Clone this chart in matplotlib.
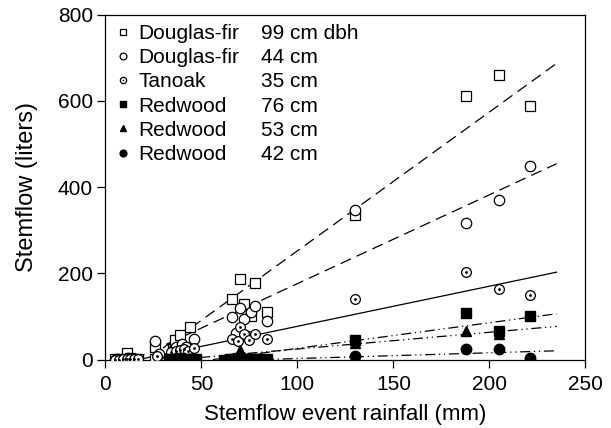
import numpy as np
import matplotlib
matplotlib.use("Agg")
import matplotlib.pyplot as plt
from matplotlib.legend_handler import HandlerTuple

plt.rcParams['font.family'] = ['Liberation Sans', 'DejaVu Sans']

# data (rainfall mm, stemflow liters)
df99_x = [5, 7, 9, 11, 13, 15, 17, 26, 26, 35, 36, 39, 44, 66, 70, 72, 76, 78, 84, 130, 188, 205, 221]
df99_y = [1, 2, 1, 16, 3, 2, 1, 30, 2, 25, 45, 57, 75, 140, 187, 128, 101, 178, 110, 335, 612, 660, 589]

df44_x = [5, 6, 8, 10, 12, 14, 16, 26, 28, 35, 37, 40, 42, 46, 66, 68, 70, 72, 74, 76, 78, 84, 130, 188, 205, 221]
df44_y = [0, 1, 0, 2, 3, 1, 2, 43, 12, 22, 30, 35, 30, 47, 98, 62, 120, 93, 55, 110, 124, 89, 347, 316, 371, 449]

tan_x = [5, 7, 9, 11, 13, 15, 17, 27, 34, 37, 39, 41, 43, 46, 66, 69, 70, 72, 75, 78, 84, 130, 188, 205, 221]
tan_y = [0, 0, 1, 2, 1, 2, 1, 8, 18, 20, 22, 25, 20, 26, 48, 43, 76, 59, 45, 59, 48, 140, 203, 163, 150]

rw76_x = [33, 35, 37, 39, 41, 43, 45, 47, 62, 65, 67, 69, 71, 73, 75, 77, 79, 84, 130, 188, 205, 221]
rw76_y = [1, 2, 1, 3, 2, 1, 2, 1, 0, 1, 2, 3, 2, 1, 2, 1, 2, 1, 45, 107, 67, 101]

rw53_x = [34, 37, 40, 43, 46, 60, 64, 67, 70, 72, 74, 76, 78, 84, 130, 188, 205]
rw53_y = [0, 1, 0, 1, 0, 0, 1, 3, 22, 5, 2, 1, 1, 0, 38, 66, 60]

rw42_x = [34, 36, 38, 40, 42, 44, 46, 63, 66, 68, 70, 72, 74, 76, 78, 80, 84, 130, 188, 205, 221]
rw42_y = [0, 1, 0, 1, 0, 1, 0, 0, 1, 0, 2, 1, 0, 1, 0, 1, 0, 8, 24, 24, 4]

species = ["Douglas-fir", "Douglas-fir", "Tanoak", "Redwood", "Redwood", "Redwood"]
sizes = ["99 cm dbh", "44 cm", "35 cm", "76 cm", "53 cm", "42 cm"]

# fitted lines: slope, intercept, x range
fit_slope = [3.22, 2.06, 0.93, 0.594, 0.389, 0.133]
fit_icpt = [-70, -30, -16, -33.5, -14.6, -11]
fit_start = [30, 15, 17, 56, 37, 80]
fit_end = 235

dash_long = (0, (9, 5))
dash_dd = (0, (8, 3, 1, 3, 1, 3))
fit_style = [dash_long, dash_long, '-', dash_dd, dash_dd, dash_dd]

fig = plt.figure(figsize=(6.11, 4.28), dpi=100)
ax = fig.add_axes([0.1725, 0.160, 0.7856, 0.806])

for i in range(6):
    xs = np.array([fit_start[i], fit_end])
    ax.plot(xs, fit_slope[i] * xs + fit_icpt[i], color='black', lw=0.9,
            linestyle=fit_style[i], zorder=2)

h1, = ax.plot(df99_x, df99_y, 's', ms=6.5, mfc='white', mec='black', mew=0.9, ls='none', zorder=3)
h2, = ax.plot(df44_x, df44_y, 'o', ms=7.5, mfc='white', mec='black', mew=0.9, ls='none', zorder=3)
h3a, = ax.plot(tan_x, tan_y, 'o', ms=7, mfc='white', mec='black', mew=0.9, ls='none', zorder=4)
h3b, = ax.plot(tan_x, tan_y, 'o', ms=2, mfc='black', mec='black', mew=0, ls='none', zorder=4)
h4, = ax.plot(rw76_x, rw76_y, 's', ms=6.5, color='black', ls='none', zorder=5)
h5, = ax.plot(rw53_x, rw53_y, '^', ms=7, color='black', ls='none', zorder=5)
h6, = ax.plot(rw42_x, rw42_y, 'o', ms=7.5, color='black', ls='none', zorder=5)

ax.set_xlim(0, 250)
ax.set_ylim(0, 800)
ax.set_xticks([0, 50, 100, 150, 200, 250])
ax.set_yticks([0, 200, 400, 600, 800])
ax.tick_params(direction='out', length=6, width=0.9, labelsize=15, pad=3)
ax.tick_params(axis='x', pad=5)
ax.tick_params(top=False, right=False)
for s in ax.spines.values():
    s.set_linewidth(0.9)

ax.set_xlabel("Stemflow event rainfall (mm)", fontsize=16, labelpad=7)
ax.set_ylabel("Stemflow (liters)", fontsize=17, labelpad=14)

leg = ax.legend([h1, h2, (h3a, h3b), h4, h5, h6], species, loc='upper left',
                bbox_to_anchor=(0.0, 1.0), frameon=False, fontsize=15,
                markerscale=0.65, handlelength=0.8, handletextpad=0.35,
                labelspacing=0.25, borderaxespad=0.15, borderpad=0.3,
                handler_map={tuple: HandlerTuple(ndivide=1, pad=0)})

# second column of the legend (tree sizes)
fig.canvas.draw()
inv = ax.transAxes.inverted()
for t, lab in zip(leg.get_texts(), sizes):
    bb = t.get_window_extent()
    y0 = inv.transform((bb.x0, bb.y0))[1]
    ax.text(0.325, y0, lab, transform=ax.transAxes, fontsize=15, va='bottom', ha='left')

fig.savefig("out.png", dpi=100)
